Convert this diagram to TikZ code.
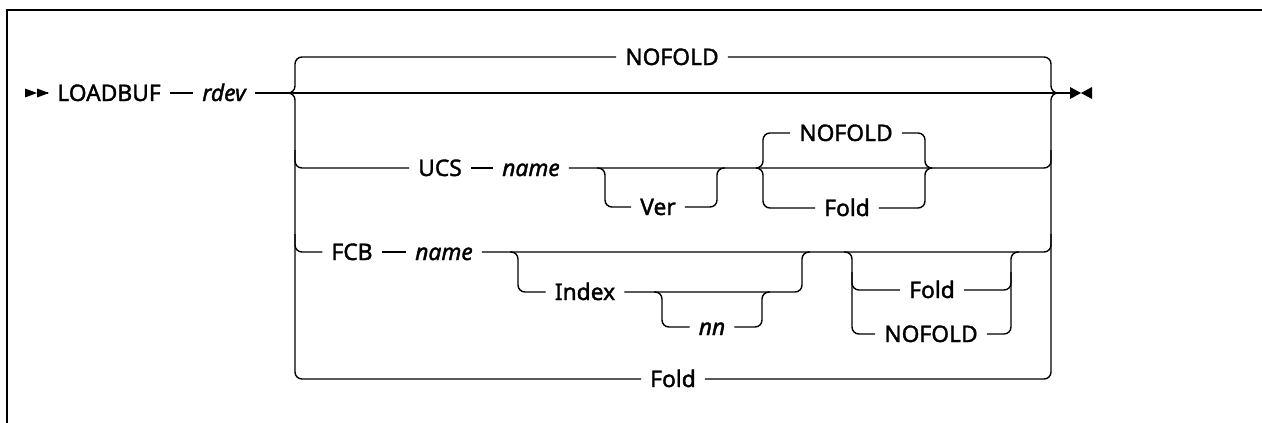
\documentclass[tikz,border=0pt]{standalone}
\usepackage{fontspec}
\setmainfont{Noto Sans}[FakeBold=1.6]
\newfontfamily\railfont{Noto Sans}[FakeBold=1.6,AutoFakeBold=1.6]
\begin{document}
\begin{tikzpicture}[x=1pt,y=-1pt,
  rail/.style={line width=1.4pt,line cap=butt},
  rr/.style={rail,rounded corners=7pt},
  kw/.style={inner xsep=9pt,inner ysep=0pt,text height=16pt,text depth=0pt,
    font=\railfont\fontsize{22.8}{26}\selectfont},
  var/.style={kw,font=\railfont\fontsize{22.8}{26}\selectfont\itshape},
  frame/.style={line width=2pt}]
\useasboundingbox (0,0) rectangle (1262,423);
% frame
\draw[frame] (7,423) -- (7,10) -- (1262,10);
% nodes
\node[kw]  (lb)    at (109,93)  {LOADBUF};
\node[var] (rdev)  at (224,93)  {rdev};
\node[kw]  (nofA)  at (672,57)  {NOFOLD};
\node[kw]  (ucs)   at (440,168) {UCS};
\node[var] (nameA) at (531,168) {name};
\node[kw]  (ver)   at (658,207) {Ver};
\node[kw]  (nofB)  at (846,133) {NOFOLD};
\node[kw]  (foldB) at (847,208) {Fold};
\node[kw]  (fcb)   at (352,252) {FCB};
\node[var] (nameC) at (444,252) {name};
\node[kw]  (index) at (585,292) {Index};
\node[var] (nn)    at (712,327) {nn};
\node[kw]  (foldC) at (932,290) {Fold};
\node[kw]  (nofC)  at (931,334) {NOFOLD};
\node[kw]  (foldD) at (673,379) {Fold};
\coordinate (startm) at (25,93);
\coordinate (endm) at (1070,93);
% start marker
\fill (startm) ++(0,-4.5) -- ++(12,4.5) -- ++(-12,4.5) -- cycle;
\fill (startm) ++(12,-4.5) -- ++(12,4.5) -- ++(-12,4.5) -- cycle;
\draw[rail] (startm) ++(22,0) -- (lb.west);
\draw[rail] (lb.east) -- (rdev.west);
% main line
\draw[rail] (rdev.east) -- (endm);
% end marker
\fill (endm) ++(0,-6) -- ++(11,6) -- ++(-11,6) -- cycle;
\fill (endm) ++(22,-6) -- ++(-11,6) -- ++(11,6) -- cycle;
% main choice: upper
\draw[rr] (288,93) -| (295,57) -- (nofA.west);
\draw[rr] (nofA.east) -| (1051,93) -- (1058,93);
% main choice: lower
\draw[rr] (288,93) -| (295,379) -- (foldD.west);
\draw[rr] (foldD.east) -| (1051,93) -- (1058,93);
% UCS row
\draw[rr] (295,150) |- (ucs.west);
\draw[rail] (ucs.east) -- (nameA.west);
\draw[rr] (nameA.east) -| (1051,150);
\draw[rr] (597,168) -| (605,207) -- (ver.west);
\draw[rr] (ver.east) -| (717,168) -- (725,168);
\draw[rr] (756,168) -| (763,133) -- (nofB.west);
\draw[rr] (nofB.east) -| (925,168) -- (932,168);
\draw[rr] (756,168) -| (763,208) -- (foldB.west);
\draw[rr] (foldB.east) -| (925,168) -- (932,168);
% FCB row
\draw[rr] (295,234) |- (fcb.west);
\draw[rail] (fcb.east) -- (nameC.west);
\draw[rr] (nameC.east) -| (1051,234);
\draw[rr] (510,252) -| (518,292) -- (index.west);
\draw[rr] (index.east) -| (802,252) -- (810,252);
\draw[rr] (654,292) -| (662,327) -- (nn.west);
\draw[rr] (nn.east) -| (762,292) -- (770,292);
\draw[rr] (844,252) -| (852,334) -- (nofC.west);
\draw[rr] (852,272) |- (foldC.west);
\draw[rr] (foldC.east) -| (1011,272);
\draw[rr] (nofC.east) -| (1011,252) -- (1019,252);
\end{tikzpicture}
\end{document}
